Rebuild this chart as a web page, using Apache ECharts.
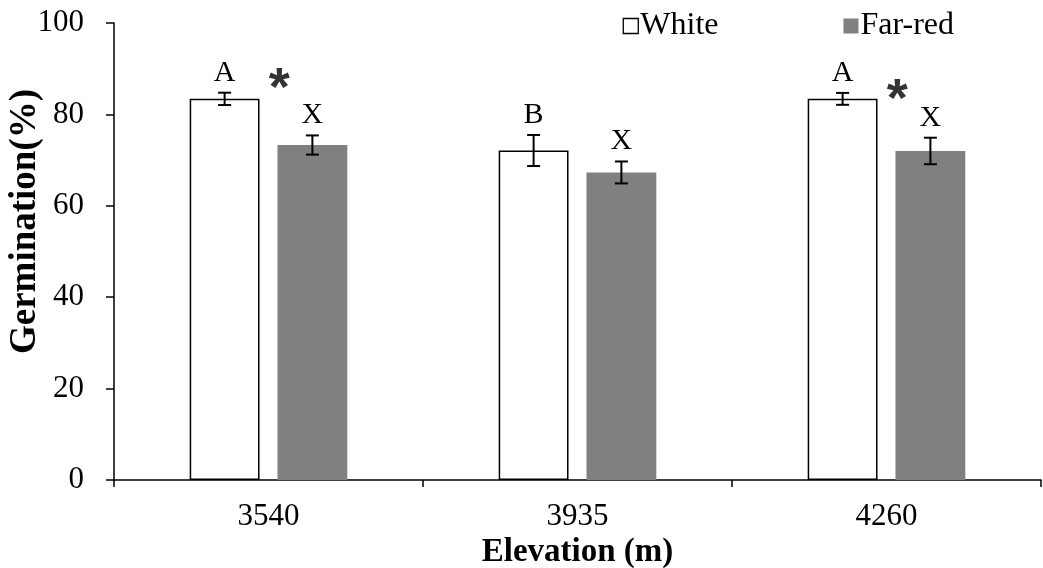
<!DOCTYPE html>
<html><head><meta charset="utf-8">
<script src="https://cdn.jsdelivr.net/npm/echarts@6/dist/echarts.min.js"></script>
<style>html,body{margin:0;padding:0;background:#fff}#c{width:1043px;height:568px}</style>
</head><body><div id="c"></div>
<script>
const categories = ['3540', '3935', '4260'];
const whiteVals = [83.4, 72.1, 83.4];
const whiteErr = [1.35, 3.4, 1.3];
const farRedVals = [73.3, 67.3, 72.0];
const farRedErr = [2.1, 2.4, 2.9];
const whiteLetters = ['A', 'B', 'A'];
const farRedLetters = ['X', 'X', 'X'];
const sigMarks = ['*', '', '*'];
const sigY = [88, null, 85.6];
const yTicks = [0, 20, 40, 60, 80, 100];

const FONT = '"Liberation Serif", "Times New Roman", serif';
const BAR_W = 0.226, GAP = 0.257;
const OFF = BAR_W * (1 + GAP) / 2;

function errSeries(name, vals, errs, letters, sign) {
  return {
    type: 'custom', name: name + '-err', silent: true, z: 5,
    data: vals.map((v, i) => [i, v, errs[i]]),
    renderItem: function (params, api) {
      const i = api.value(0), v = api.value(1), e = api.value(2);
      const band = api.size([1, 0])[0];
      const cx = api.coord([i, v])[0] + sign * OFF * band;
      const yt = api.coord([i, v + e])[1];
      const yb = api.coord([i, v - e])[1];
      const cap = 6.5;
      const st = { stroke: '#000', lineWidth: 2 };
      return { type: 'group', children: [
        { type: 'line', shape: { x1: cx, y1: yt, x2: cx, y2: yb }, style: st },
        { type: 'line', shape: { x1: cx - cap, y1: yt, x2: cx + cap, y2: yt }, style: st },
        { type: 'line', shape: { x1: cx - cap, y1: yb, x2: cx + cap, y2: yb }, style: st },
        { type: 'text', style: { text: letters[params.dataIndex], x: cx, y: yt - 5,
            textAlign: 'center', textVerticalAlign: 'bottom', font: '30px ' + FONT, fill: '#000' } }
      ]};
    }
  };
}

const chart = echarts.init(document.getElementById('c'), null, { renderer: 'canvas' });
chart.setOption({
  animation: false,
  backgroundColor: '#fff',
  textStyle: { fontFamily: FONT },
  grid: { left: 114, right: 2, top: 23, bottom: 88, containLabel: false, outerBoundsMode: 'none' },
  legend: {
    top: 5, right: 84, itemWidth: 15, itemHeight: 15, itemGap: 125,
    textStyle: { fontFamily: FONT, fontSize: 32, color: '#000', padding: [0, 0, 0, -3] },
    data: [
      { name: 'White', icon: 'rect', itemStyle: { color: '#fff', borderColor: '#000', borderWidth: 1.3 } },
      { name: 'Far-red', icon: 'rect', itemStyle: { color: '#808080' } }
    ]
  },
  xAxis: {
    type: 'category', data: categories,
    name: 'Elevation (m)', nameLocation: 'middle', nameGap: 56, nameMoveOverlap: false,
    nameTextStyle: { fontFamily: FONT, fontSize: 33, fontWeight: 'bold', color: '#000' },
    axisLine: { lineStyle: { color: '#000', width: 1.5 } },
    axisTick: { show: true, inside: false, length: 7, lineStyle: { color: '#000', width: 1.5 } },
    axisLabel: { fontFamily: FONT, fontSize: 31, color: '#000', margin: 21 }
  },
  yAxis: {
    type: 'value', min: 0, max: 100, interval: 20,
    name: 'Germination(%)', nameLocation: 'middle', nameGap: 70, nameRotate: 90, nameMoveOverlap: false,
    nameTextStyle: { fontFamily: FONT, fontSize: 37, fontWeight: 'bold', color: '#000', padding: [0, 0, 0, 60] },
    axisLine: { show: true, lineStyle: { color: '#000', width: 1.5 } },
    axisTick: { show: true, length: 8, lineStyle: { color: '#000', width: 1.5 } },
    axisLabel: { fontFamily: FONT, fontSize: 31, color: '#000', margin: 30,
      formatter: v => (yTicks.indexOf(v) >= 0 ? String(v) : '') },
    splitLine: { show: false }
  },
  series: [
    { name: 'White', type: 'bar', data: whiteVals, barWidth: (BAR_W * 100) + '%', barGap: (GAP * 100) + '%',
      itemStyle: { color: '#fff', borderColor: '#000', borderWidth: 1.5 } },
    { name: 'Far-red', type: 'bar', data: farRedVals, barWidth: (BAR_W * 100) + '%',
      itemStyle: { color: '#808080' } },
    errSeries('White', whiteVals, whiteErr, whiteLetters, -1),
    errSeries('Far-red', farRedVals, farRedErr, farRedLetters, 1),
    { type: 'custom', name: 'sig', silent: true, z: 6,
      data: categories.map((c, i) => [i, sigY[i] == null ? 0 : sigY[i]]),
      renderItem: function (params, api) {
        const i = params.dataIndex;
        if (!sigMarks[i]) return null;
        const p = api.coord([api.value(0), api.value(1)]);
        const band = api.size([1, 0])[0];
        return { type: 'text', style: { text: sigMarks[i], x: p[0] + 0.035 * band, y: p[1] + 12,
          textAlign: 'center', textVerticalAlign: 'middle',
          font: 'bold 54px "Liberation Sans", sans-serif', fill: '#333' } };
      } }
  ]
});
</script></body></html>
